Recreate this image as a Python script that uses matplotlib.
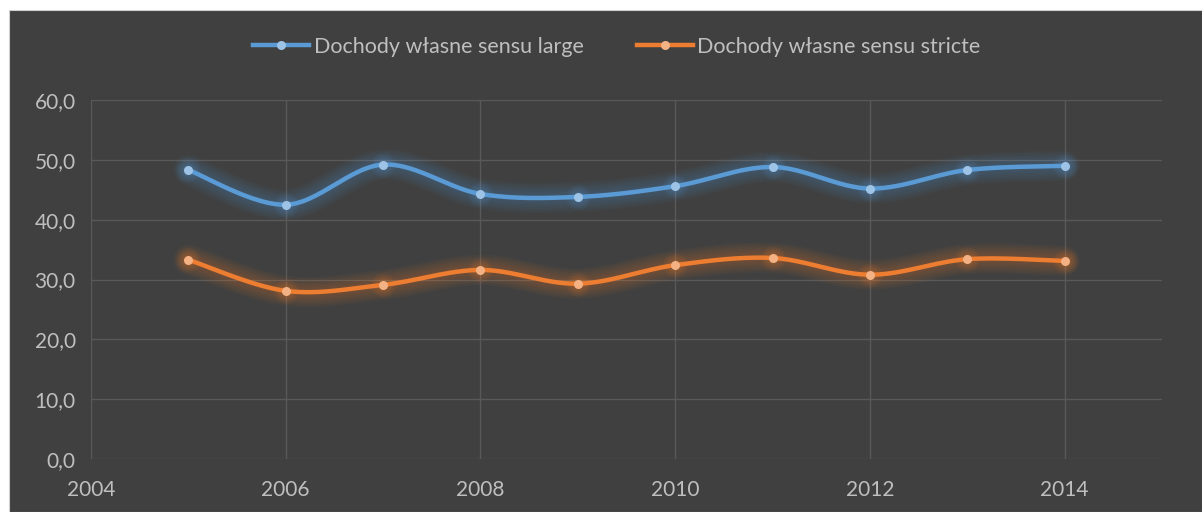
import numpy as np
import matplotlib
matplotlib.use("Agg")
import matplotlib.pyplot as plt
from matplotlib.lines import Line2D
from matplotlib.patches import Rectangle

years = [2005, 2006, 2007, 2008, 2009, 2010, 2011, 2012, 2013, 2014]
large = [48.3, 42.5, 49.2, 44.3, 43.8, 45.6, 48.8, 45.2, 48.3, 49.0]
stricte = [33.3, 28.1, 29.1, 31.6, 29.3, 32.4, 33.6, 30.8, 33.4, 33.1]
labels = ["Dochody własne sensu large", "Dochody własne sensu stricte"]
xticks = [2004, 2006, 2008, 2010, 2012, 2014]
yticks = [0, 10, 20, 30, 40, 50, 60]

BG = "#404040"
TXT = "#bfbfbf"
GRID = "#595959"
colors = ["#5b9bd5", "#ed7d31"]
mcolors = ["#9dc3e6", "#f4b183"]

plt.rcParams['font.family'] = ['Lato', 'DejaVu Sans']


def smooth(x, y, n=30):
    x = np.asarray(x, float)
    y = np.asarray(y, float)
    px = np.concatenate([[x[0]], x, [x[-1]]])
    py = np.concatenate([[y[0]], y, [y[-1]]])
    xs, ys = [], []
    for i in range(1, len(px) - 2):
        p0 = np.array([px[i - 1], py[i - 1]])
        p1 = np.array([px[i], py[i]])
        p2 = np.array([px[i + 1], py[i + 1]])
        p3 = np.array([px[i + 2], py[i + 2]])
        c1 = p1 + (p2 - p0) / 6
        c2 = p2 - (p3 - p1) / 6
        t = np.linspace(0, 1, n)[:, None]
        b = ((1 - t) ** 3) * p1 + 3 * ((1 - t) ** 2) * t * c1 + 3 * (1 - t) * t ** 2 * c2 + t ** 3 * p2
        xs.extend(b[:, 0])
        ys.extend(b[:, 1])
    return np.array(xs), np.array(ys)


fig = plt.figure(figsize=(12.02, 5.12), dpi=100, facecolor="white")
fig.patches.append(Rectangle((9 / 1202, 0), 1, (512 - 10) / 512, transform=fig.transFigure,
                             facecolor=BG, edgecolor="#d0d0d0", linewidth=0.8, zorder=-10))

ax = fig.add_axes([91 / 1202, 1 - 459 / 512, (1162 - 91) / 1202, (459 - 100) / 512])
ax.set_facecolor(BG)
ax.set_xlim(2004, 2015)
ax.set_ylim(0, 60)
ax.set_xticks(xticks)
ax.set_yticks(yticks)
ax.set_yticklabels([f"{v:.1f}".replace(".", ",") for v in yticks])
ax.grid(True, color=GRID, linewidth=1)
ax.set_axisbelow(True)
for s in ax.spines.values():
    s.set_visible(False)
ax.tick_params(length=0, colors=TXT, labelsize=15)
ax.tick_params(axis='y', pad=11)
ax.tick_params(axis='x', pad=15)

for vals, c, mc in zip([large, stricte], colors, mcolors):
    sx, sy = smooth(years, vals)
    for w in np.linspace(22, 5, 9):
        ax.plot(sx, sy, color=c, linewidth=w, alpha=0.035, solid_capstyle='round',
                solid_joinstyle='round', zorder=2)
    for ms in np.linspace(18, 9, 5):
        ax.plot(years, vals, linestyle='none', marker='o', markersize=ms, color=c,
                alpha=0.05, markeredgewidth=0, zorder=2)
    ax.plot(sx, sy, color=c, linewidth=3.2, zorder=3, solid_capstyle='round')
    ax.plot(years, vals, linestyle='none', marker='o', markersize=6.5, color=mc, zorder=4,
            markeredgewidth=0)

handles = [Line2D([0], [0], color=c, linewidth=3.2, marker='o', markersize=6.5,
                  markerfacecolor=mc, markeredgewidth=0) for c, mc in zip(colors, mcolors)]
fig.legend(handles, labels, loc='center', bbox_to_anchor=(0.5133, 1 - 47 / 512), ncol=2,
           frameon=False, fontsize=15.5, labelcolor=TXT, handlelength=2.6, handletextpad=0.2,
           columnspacing=2.5)

fig.savefig("out.png", dpi=100, facecolor=fig.get_facecolor())
